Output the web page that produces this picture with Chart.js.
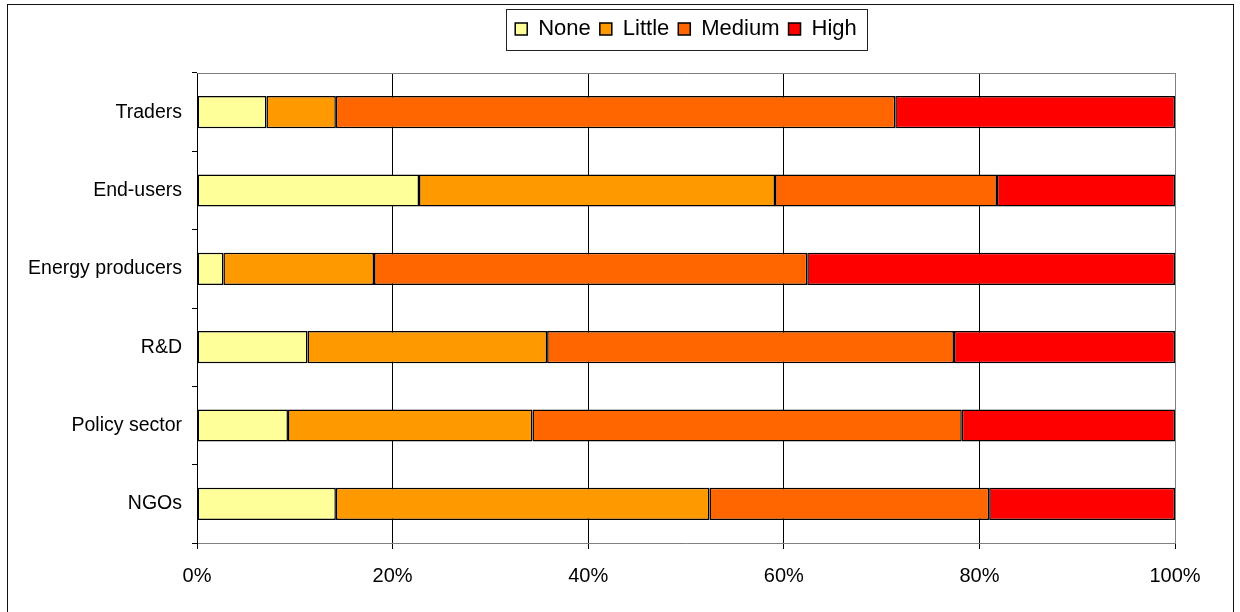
<!DOCTYPE html>
<html>
<head>
<meta charset="utf-8">
<script src="https://cdn.jsdelivr.net/npm/chart.js@4.4.0/dist/chart.umd.min.js"></script>
<style>
  html, body { margin: 0; padding: 0; background: #fff; }
  #wrap { width: 1240px; height: 612px; position: relative; }
</style>
</head>
<body>
<div id="wrap"><canvas id="c" width="1240" height="612"></canvas></div>
<script>
const categories = ['Traders', 'End-users', 'Energy producers', 'R&D', 'Policy sector', 'NGOs'];
const seriesNames = ['None', 'Little', 'Medium', 'High'];
const noneVals   = [7.1, 22.7, 2.7, 11.3, 9.3, 14.2];
const littleVals = [7.1, 36.4, 15.4, 24.5, 25.0, 38.2];
const mediumVals = [57.2, 22.7, 44.3, 41.6, 43.9, 28.6];
const highVals   = [28.6, 18.2, 37.6, 22.6, 21.8, 19.0];
const tickValues = [0, 20, 40, 60, 80, 100];
const seriesColors = ['#FFFF99', '#FF9900', '#FF6600', '#FF0000'];

Chart.defaults.font.family = "'Liberation Sans', Arial, sans-serif";
Chart.defaults.color = '#000';

const frame = {
  id: 'frame',
  beforeDraw(chart) {
    const ctx = chart.ctx;
    ctx.save();
    ctx.fillStyle = '#fff';
    ctx.fillRect(0, 0, chart.width, chart.height);
    ctx.strokeStyle = '#111';
    ctx.lineWidth = 1;
    ctx.strokeRect(7.5, 4.5, 1226, 620);
    ctx.restore();
  },
  beforeDatasetsDraw(chart) {
    const {ctx, chartArea: a} = chart;
    ctx.save();
    ctx.strokeStyle = '#808080';
    ctx.lineWidth = 1;
    ctx.beginPath();
    ctx.moveTo(Math.round(a.left) + 0.5, Math.round(a.top) + 0.5);
    ctx.lineTo(Math.round(a.right) + 0.5, Math.round(a.top) + 0.5);
    ctx.lineTo(Math.round(a.right) + 0.5, Math.round(a.bottom) + 0.5);
    ctx.stroke();
    ctx.restore();
  },
  afterDraw(chart) {
    const lg = chart.legend;
    if (!lg || !lg.legendHitBoxes || !lg.legendHitBoxes.length) return;
    const hb = lg.legendHitBoxes;
    const first = hb[0], last = hb[hb.length - 1];
    const ctx = chart.ctx;
    ctx.save();
    ctx.strokeStyle = '#222';
    ctx.lineWidth = 1;
    const l = Math.round(first.left - 9) + 0.5;
    const r = Math.round(last.left + last.width + 10) + 0.5;
    const t = Math.round(lg.top) + 0.5;
    const b = Math.round(lg.bottom) + 0.5;
    ctx.strokeRect(l, t, r - l, b - t);
    ctx.restore();
  }
};

const valueLists = [noneVals, littleVals, mediumVals, highVals];
const datasets = seriesNames.map((name, i) => ({
  label: name,
  data: valueLists[i],
  backgroundColor: seriesColors[i],
  borderColor: '#000',
  borderWidth: 1.5,
  borderSkipped: false,
  barPercentage: 0.41,
  categoryPercentage: 1.0
}));

new Chart(document.getElementById('c'), {
  type: 'bar',
  data: { labels: categories, datasets },
  plugins: [frame],
  options: {
    indexAxis: 'y',
    responsive: false,
    animation: false,
    devicePixelRatio: 1,
    layout: { padding: { top: 9, right: 65, left: 0, bottom: 0 } },
    plugins: {
      tooltip: { enabled: false },
      legend: {
        position: 'top',
        fullSize: false,
        align: 'center',
        labels: {
          boxWidth: 12,
          boxHeight: 12,
          padding: 9,
          color: '#000',
          font: { size: 22 }
        }
      }
    },
    scales: {
      x: {
        type: 'linear',
        position: 'bottom',
        stacked: true,
        min: 0,
        max: 100,
        afterBuildTicks: s => { s.ticks = tickValues.map(v => ({ value: v })); },
        ticks: {
          callback: v => v + '%',
          color: '#000',
          font: { size: 20 },
          padding: 15,
          maxRotation: 0
        },
        grid: {
          color: c => (c.tick && c.tick.value === 100) ? '#808080' : '#000',
          tickColor: '#000',
          tickLength: 6,
          lineWidth: 1
        },
        border: { display: true, color: '#808080' },
        afterFit: s => { s.height = 69; }
      },
      x2: {
        type: 'linear',
        position: 'top',
        display: true,
        grid: { display: false },
        ticks: { display: false },
        border: { display: false },
        afterFit: s => { s.height = 23; }
      },
      y: {
        type: 'category',
        stacked: true,
        grid: {
          drawOnChartArea: false,
          offset: true,
          tickLength: 5,
          color: '#000'
        },
        border: { display: true, color: '#000' },
        ticks: {
          color: '#000',
          font: { size: 19.5 },
          padding: 10
        },
        afterFit: s => { s.width = 197; }
      }
    }
  }
});
</script>
</body>
</html>
